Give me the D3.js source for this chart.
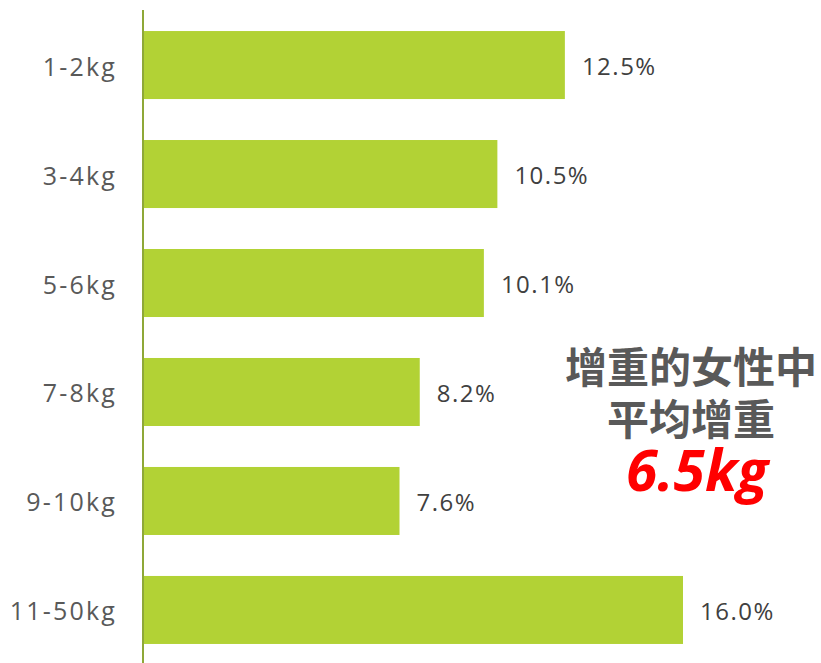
<!DOCTYPE html>
<html>
<head>
<meta charset="utf-8">
<script src="https://cdn.jsdelivr.net/npm/d3@7"></script>
<style>
  html, body { margin: 0; padding: 0; background: #ffffff; }
  svg { display: block; }
</style>
</head>
<body>
<svg id="chart" width="821" height="663"></svg>
<script>
// Weight-gain ranges and the share of women in each range (%)
const categories = ["1-2kg", "3-4kg", "5-6kg", "7-8kg", "9-10kg", "11-50kg"];
const shares = [12.5, 10.5, 10.1, 8.2, 7.6, 16.0];
const noteLines = ["增重的女性中", "平均增重"];
const averageGain = "6.5kg";

const data = categories.map((c, i) => ({ category: c, value: shares[i] }));

const svg = d3.select("#chart");
const axisX = 143;

const x = d3.scaleLinear()
  .domain([0, 16])
  .range([axisX, axisX + 540]);

const y = d3.scaleBand()
  .domain(categories)
  .range([10, 665])
  .paddingInner(0.376)
  .paddingOuter(0.193);

// bars
svg.append("g")
  .selectAll("rect")
  .data(data)
  .join("rect")
  .attr("x", x(0))
  .attr("y", d => y(d.category))
  .attr("width", d => x(d.value) - x(0))
  .attr("height", y.bandwidth())
  .attr("fill", "#b2d235");

// vertical category axis
const yAxis = svg.append("g")
  .attr("transform", `translate(${axisX},0)`)
  .call(d3.axisLeft(y).tickSize(0).tickPadding(26));
yAxis.select(".domain")
  .attr("d", "M0,10V663")
  .attr("stroke", "#8ea838")
  .attr("stroke-width", 2);
yAxis.selectAll("text")
  .attr("dy", "0.42em")
  .attr("font-family", "'Open Sans', 'Noto Sans', sans-serif")
  .attr("font-size", 25)
  .attr("letter-spacing", 2.2)
  .attr("fill", "#595959");

// value labels
svg.append("g")
  .selectAll("text")
  .data(data)
  .join("text")
  .attr("x", d => x(d.value) + 17)
  .attr("y", d => y(d.category) + y.bandwidth() / 2)
  .attr("dy", "0.42em")
  .attr("font-family", "'Open Sans', 'Noto Sans', sans-serif")
  .attr("font-size", 24)
  .attr("letter-spacing", 1.5)
  .attr("fill", "#404040")
  .text(d => d.value.toFixed(1) + "%");

// annotation
const note = svg.append("g");
note.selectAll("text.line")
  .data(noteLines)
  .join("text")
  .attr("class", "line")
  .attr("x", 691)
  .attr("y", (d, i) => 364 + i * 52)
  .attr("dominant-baseline", "central")
  .attr("text-anchor", "middle")
  .attr("font-family", "'Noto Sans CJK SC', sans-serif")
  .attr("font-weight", 700)
  .attr("font-size", 42)
  .attr("fill", "#595959")
  .text(d => d);

note.append("text")
  .attr("x", 697)
  .attr("y", 491)
  .attr("text-anchor", "middle")
  .attr("font-family", "'Open Sans', 'Noto Sans', sans-serif")
  .attr("font-weight", 700)
  .attr("font-style", "italic")
  .attr("font-size", 57)
  .attr("fill", "#ff0000")
  .text(averageGain);
</script>
</body>
</html>
